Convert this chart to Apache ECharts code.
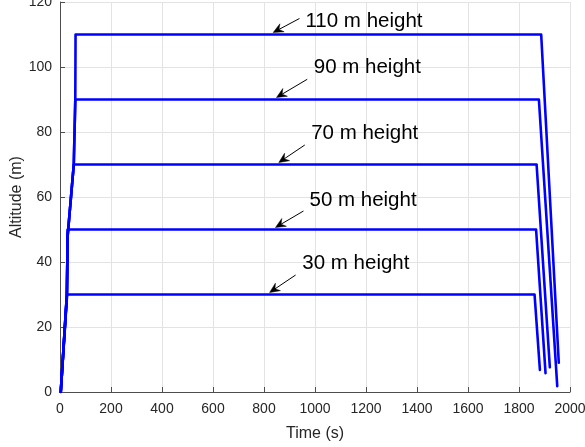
<!DOCTYPE html>
<html>
<head>
<meta charset="utf-8">
<script src="https://cdn.jsdelivr.net/npm/echarts@6/dist/echarts.min.js"></script>
<style>
  html, body { margin: 0; padding: 0; background: #ffffff; }
  #chart { width: 585px; height: 447px; }
</style>
</head>
<body>
<div id="chart"></div>
<script>
// Flight altitude profiles: [time (s), altitude (m)]
const flight30  = [[3, 0], [28, 30], [1861, 30], [1882, 6.8]];
const flight50  = [[3, 0], [27, 30], [30, 50], [1867, 50], [1904, 5.8]];
const flight70  = [[3, 0], [27, 30], [30, 48], [54, 70], [1869, 70], [1921, 7.6]];
const flight90  = [[3, 0], [27, 30], [30, 48], [54, 70], [60, 90], [1878, 90], [1950, 1.8]];
const flight110 = [[3, 0], [27, 30], [30, 48], [54, 70], [60, 90], [61, 110], [1887, 110], [1956, 9]];

// Axis ticks
const timeTicks = [0, 200, 400, 600, 800, 1000, 1200, 1400, 1600, 1800, 2000];
const altTicks = [0, 20, 40, 60, 80, 100, 120];

// Callouts: text, time where the arrow points, and the level it points at
const calloutText  = ['110 m height', '90 m height', '70 m height', '50 m height', '30 m height'];
const calloutTime  = [836, 849, 858, 845, 822];
const calloutLevel = [110, 90, 70, 50, 30];

// Pixel offsets of arrow tail and text (left, baseline) from the arrow tip
const tailOffset = [[26.3, -14], [30.7, -18.2], [26, -17.5], [28, -16.5], [26, -17.5]];
const textOffset = [[32.3, -5], [37.3, -23.5], [32.4, -22.5], [34, -20.5], [32.7, -22.5]];

const FONT = '"Liberation Sans", Arial, Helvetica, sans-serif';
const AXIS_COLOR = '#4d4d4d';
const TEXT_COLOR = '#262626';
const GRID_COLOR = '#e3e3e3';
const LINE_COLOR = '#0000ff';

const chart = echarts.init(document.getElementById('chart'), null, { renderer: 'canvas' });

function axisCommon(ticks, name, gap, labelMargin) {
  return {
    type: 'value',
    min: ticks[0],
    max: ticks[ticks.length - 1],
    interval: ticks[1] - ticks[0],
    name: name,
    nameLocation: 'middle',
    nameGap: gap,
    nameMoveOverlap: false,
    nameTextStyle: { fontFamily: FONT, fontSize: 16, color: TEXT_COLOR },
    axisLine: { show: true, lineStyle: { color: AXIS_COLOR, width: 1 } },
    axisTick: { show: true, inside: true, length: 5, lineStyle: { color: AXIS_COLOR, width: 1 } },
    axisLabel: {
      fontFamily: FONT, fontSize: 14, color: TEXT_COLOR, margin: labelMargin,
      formatter: function (v) { return String(v); }
    },
    splitLine: { show: true, lineStyle: { color: GRID_COLOR, width: 1 } }
  };
}

const flights = [flight30, flight50, flight70, flight90, flight110];

chart.setOption({
  animation: false,
  backgroundColor: '#ffffff',
  grid: { left: 60, top: 2, width: 510, height: 390, containLabel: false, outerBoundsMode: 'none' },
  xAxis: axisCommon(timeTicks, 'Time (s)', 34, 10),
  yAxis: axisCommon(altTicks, 'Altitude (m)', 35, 8),
  series: flights.map(function (d) {
    return {
      type: 'line',
      data: d,
      showSymbol: false,
      symbol: 'none',
      lineStyle: { color: LINE_COLOR, width: 2.6, join: 'round', cap: 'round' },
      silent: true
    };
  })
});

// Arrow callouts placed relative to the pixel position of the level they point at
function buildCallouts() {
  const elements = [];
  for (let i = 0; i < calloutText.length; i++) {
    const p = chart.convertToPixel({ gridIndex: 0 }, [calloutTime[i], calloutLevel[i]]);
    const tip = [p[0], p[1] - 2];
    const tail = [tip[0] + tailOffset[i][0], tip[1] + tailOffset[i][1]];
    const dx = tip[0] - tail[0], dy = tip[1] - tail[1];
    const len = Math.sqrt(dx * dx + dy * dy);
    const ux = dx / len, uy = dy / len;
    const nx = -uy, ny = ux;
    const L = 10, W = 4.5, notch = 6.5;
    const b1 = [tip[0] - L * ux + W * nx, tip[1] - L * uy + W * ny];
    const b2 = [tip[0] - L * ux - W * nx, tip[1] - L * uy - W * ny];
    const nb = [tip[0] - notch * ux, tip[1] - notch * uy];
    elements.push({
      type: 'polyline',
      silent: true,
      shape: { points: [tail, nb] },
      style: { stroke: '#000000', lineWidth: 1, fill: null }
    });
    elements.push({
      type: 'polygon',
      silent: true,
      shape: { points: [tip, b1, nb, b2] },
      style: { fill: '#000000', stroke: '#000000', lineWidth: 0.5 }
    });
    // text box bottom sits one descent below the baseline
    elements.push({
      type: 'text',
      silent: true,
      x: tip[0] + textOffset[i][0],
      y: tip[1] + textOffset[i][1] + 4,
      style: {
        text: calloutText[i],
        font: '20.5px ' + FONT,
        fill: '#000000',
        textAlign: 'left',
        textVerticalAlign: 'bottom'
      }
    });
  }
  chart.setOption({ graphic: { elements: elements } });
}
buildCallouts();
</script>
</body>
</html>
